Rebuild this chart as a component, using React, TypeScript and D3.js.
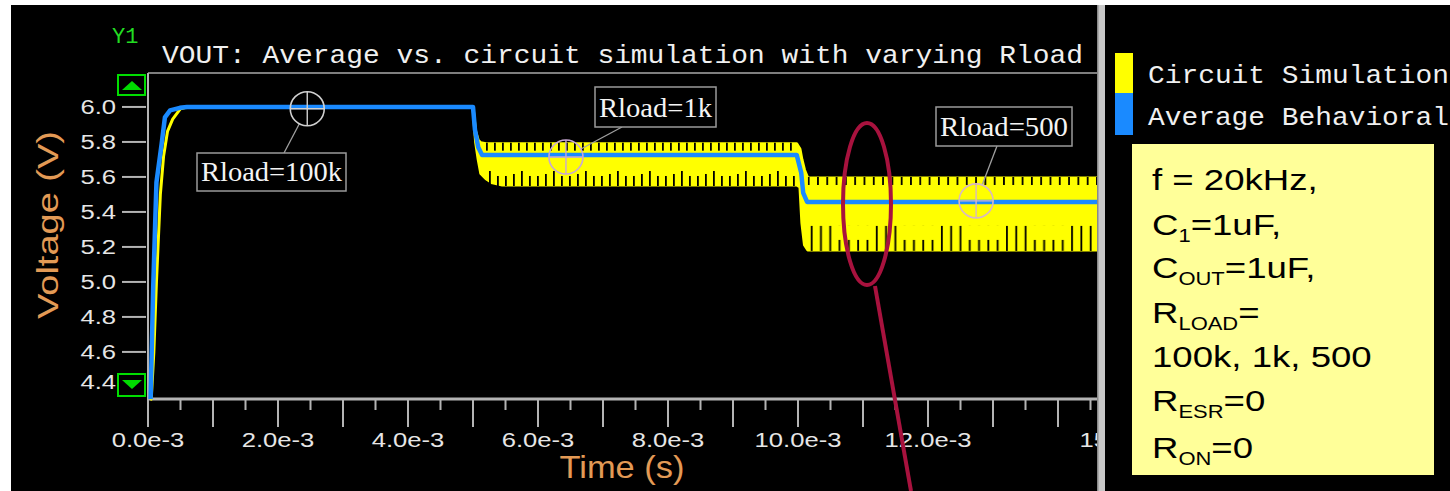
import React from 'react';
import * as d3 from 'd3';

// ---------- data (time in ms, voltage in V) ----------
const avgTime = [0.04, 0.08, 0.13, 0.21, 0.26, 0.34, 0.49, 0.6, 5.0, 5.03, 5.08, 5.14, 9.98, 10.05, 10.08, 10.14, 15];
const avgVolt = [4.33, 4.97, 5.57, 5.79, 5.94, 5.98, 5.995, 6.0, 6.0, 5.87, 5.77, 5.726, 5.726, 5.623, 5.509, 5.457, 5.457];

const simTime = [0.05, 0.09, 0.13, 0.19, 0.24, 0.3, 0.38, 0.5, 0.6, 5.0, 5.04, 5.08, 5.12, 5.2, 5.3, 5.45, 9.98, 10.03, 10.06, 10.1, 10.15, 15];
const simUpper = [4.33, 4.6, 5.0, 5.5, 5.72, 5.86, 5.93, 5.99, 6.0, 6.0, 5.86, 5.81, 5.795, 5.79, 5.79, 5.79, 5.79, 5.76, 5.7, 5.64, 5.594, 5.594];
const simLower = [4.33, 4.6, 5.0, 5.5, 5.72, 5.86, 5.93, 5.99, 6.0, 6.0, 5.8, 5.7, 5.62, 5.59, 5.566, 5.554, 5.554, 5.543, 5.337, 5.211, 5.183, 5.183];

// ripple plateaus of the circuit simulation
const rippleStart = [5.2, 10.15];
const rippleEnd = [9.98, 15];
const rippleTop = [5.79, 5.594];
const rippleBottom = [5.554, 5.183];

const yTicks = [4.4, 4.6, 4.8, 5.0, 5.2, 5.4, 5.6, 5.8, 6.0];
const xLabelTicks = [0, 2, 4, 6, 8, 10, 12, 15];

const annTime = [2.45, 6.43, 12.74];
const annVolt = [5.99, 5.714, 5.463];
const annLabels = ['Rload=100k', 'Rload=1k', 'Rload=500'];

const legendLabels = ['Circuit Simulation', 'Average Behavioral'];
const title = 'VOUT: Average vs. circuit simulation with varying Rload';

// ---------- layout / styles ----------
const W = 1450;
const H = 491;
const P = { left: 148, right: 1097, top: 73, bottom: 399 };
const BLUE = '#1a8aff';
const YELLOW = '#ffff00';
const GRAY = '#b4b4b4';
const ORANGE = '#e39a55';
const SANS = '"Liberation Sans", Arial, sans-serif';
const MONO = '"Liberation Mono", "Courier New", monospace';
const SERIF = '"Liberation Serif", "Times New Roman", serif';
const SX = 1.22;

const annBoxes = [
  { x: 197, y: 153, w: 149, h: 38, ax: 284, ay: 153, color: '#d0d0d0' },
  { x: 595, y: 87, w: 121, h: 40, ax: 622, ay: 127, color: '#c8a8d4' },
  { x: 936, y: 107, w: 136, h: 39, ax: 997, ay: 146, color: '#d8b8c0' },
];
const teethStyle = [
  { period: 8, topDepth: 7, bottom: [14, 9, 9, 11] },
  { period: 9.3, topDepth: 7, bottom: [24, 24, 24, 10, 10, 10, 10] },
];

// each line: main text, optional subscript, optional trailing text
const infoLines: { b: number; main: string; sub?: string; tail?: string }[] = [
  { b: 190, main: 'f = 20kHz,' },
  { b: 235, main: 'C', sub: '1', tail: '=1uF,' },
  { b: 278, main: 'C', sub: 'OUT', tail: '=1uF,' },
  { b: 323, main: 'R', sub: 'LOAD', tail: '=' },
  { b: 367, main: '100k, 1k, 500' },
  { b: 411, main: 'R', sub: 'ESR', tail: '=0' },
  { b: 458, main: 'R', sub: 'ON', tail: '=0' },
];

export default function App() {
  const x = d3.scaleLinear().domain([0, 15]).range([148, 1123]);
  const y = d3.scaleLinear().domain([4.331, 6.194]).range([P.bottom, P.top]);

  const avgLine = d3
    .line<number>()
    .x((_, i) => x(avgTime[i]))
    .y((d) => y(d))(avgVolt) as string;

  const simArea = d3
    .area<number>()
    .x((_, i) => x(simTime[i]))
    .y0((_, i) => y(simLower[i]))
    .y1((_, i) => y(simUpper[i]))(simTime) as string;

  const xMajor = d3.range(0, 15.001, 1);
  const xMinor = d3.range(0.5, 15, 1);

  const fmt = (t: number) => `${t.toFixed(1)}e-3`;

  return (
    <svg width={W} height={H} style={{ position: 'absolute', left: 0, top: 0 }}>
      <defs>
        <clipPath id="plotClip">
          <rect x={P.left} y={P.top} width={P.right - P.left} height={P.bottom - P.top + 40} />
        </clipPath>
        <clipPath id="rightClip">
          <rect x={0} y={0} width={P.right} height={H} />
        </clipPath>
        {teethStyle.map((s, k) => {
          const yb = y(rippleBottom[k]);
          const maxH = Math.max(...s.bottom);
          return (
            <React.Fragment key={k}>
              <pattern id={`top${k}`} patternUnits="userSpaceOnUse" width={s.period} height={s.topDepth + 1} x={x(rippleStart[k])} y={y(rippleTop[k]) - 1}>
                <rect x={0} y={0} width={1.8} height={s.topDepth + 1} fill="#000" />
              </pattern>
              <pattern
                id={`bot${k}`}
                patternUnits="userSpaceOnUse"
                width={s.period * s.bottom.length}
                height={maxH + 1}
                x={x(rippleStart[k]) + 3}
                y={yb - maxH}
              >
                {s.bottom.map((h, j) => (
                  <rect key={j} x={j * s.period} y={maxH - h} width={1.8} height={h + 1} fill="#000" />
                ))}
              </pattern>
            </React.Fragment>
          );
        })}
      </defs>

      <rect x={0} y={0} width={W} height={H} fill="#fff" />
      <rect x={11} y={5} width={W - 11} height={H - 5} fill="#000" />

      {/* Y1 and title */}
      <text x={112} y={43} fill="#22dd22" fontFamily={MONO} fontSize={22}>
        Y1
      </text>
      <text x={162} y={63} fill="#f0f0f0" fontFamily={MONO} fontSize={26} textLength={921} lengthAdjust="spacingAndGlyphs">
        {title}
      </text>

      {/* frame */}
      <line x1={P.left} x2={P.right} y1={P.top} y2={P.top} stroke="#a8a8a8" strokeWidth={1.5} />
      <line x1={P.left} x2={P.left} y1={P.top} y2={P.bottom} stroke={GRAY} strokeWidth={2} />

      {/* y ticks */}
      {yTicks.map((v) => (
        <g key={v}>
          <line x1={122} x2={146} y1={y(v)} y2={y(v)} stroke={GRAY} strokeWidth={2} />
          <text
            transform={`translate(116,${Math.min(y(v), P.bottom - 18) + 7.5}) scale(${SX},1)`}
            textAnchor="end"
            fill="#e6e6e6"
            fontFamily={SANS}
            fontSize={21}
          >
            {v.toFixed(1)}
          </text>
        </g>
      ))}

      {/* x axis */}
      <g clipPath="url(#rightClip)">
        <line x1={P.left} x2={P.right} y1={P.bottom} y2={P.bottom} stroke={GRAY} strokeWidth={3} />
        {xMajor.map((t) => (
          <line key={`M${t}`} x1={x(t)} x2={x(t)} y1={P.bottom} y2={427} stroke={GRAY} strokeWidth={2} />
        ))}
        {xMinor.map((t) => (
          <line key={`m${t}`} x1={x(t)} x2={x(t)} y1={P.bottom} y2={410} stroke={GRAY} strokeWidth={2} />
        ))}
        {xLabelTicks.map((t) => (
          <text
            key={`l${t}`}
            transform={`translate(${x(t)},447) scale(${SX},1)`}
            textAnchor="middle"
            fill="#e6e6e6"
            fontFamily={SANS}
            fontSize={21}
          >
            {fmt(t)}
          </text>
        ))}
      </g>

      {/* axis titles */}
      <text x={622} y={478} textAnchor="middle" fill={ORANGE} fontFamily={SANS} fontSize={32} textLength={125} lengthAdjust="spacingAndGlyphs">
        Time (s)
      </text>
      <text
        transform="translate(58,225) rotate(-90)"
        textAnchor="middle"
        fill={ORANGE}
        fontFamily={SANS}
        fontSize={30}
        textLength={188}
        lengthAdjust="spacingAndGlyphs"
      >
        Voltage (V)
      </text>

      {/* data */}
      <g clipPath="url(#plotClip)">
        <path d={simArea} fill={YELLOW} stroke={YELLOW} strokeWidth={3} strokeLinejoin="round" />
        {teethStyle.map((s, k) => {
          const x0 = x(rippleStart[k]);
          const x1 = x(rippleEnd[k]);
          const yt = y(rippleTop[k]);
          const yb = y(rippleBottom[k]);
          const maxH = Math.max(...s.bottom);
          return (
            <g key={k}>
              <rect x={x0} y={yt - 1} width={x1 - x0} height={s.topDepth + 1} fill={`url(#top${k})`} />
              <rect x={x0} y={yb - maxH} width={x1 - x0} height={maxH + 1} fill={`url(#bot${k})`} />
            </g>
          );
        })}
        <path d={avgLine} fill="none" stroke={BLUE} strokeWidth={4.5} strokeLinejoin="round" />
      </g>

      {/* annotations */}
      {annTime.map((t, i) => {
        const cx = x(t);
        const cy = y(annVolt[i]);
        const b = annBoxes[i];
        const r = 17;
        const ang = Math.atan2(b.ay - cy, b.ax - cx);
        return (
          <g key={i}>
            <line
              x1={cx + r * Math.cos(ang)}
              y1={cy + r * Math.sin(ang)}
              x2={b.ax}
              y2={b.ay}
              stroke="#a0a0a0"
              strokeWidth={1.3}
            />
            <circle cx={cx} cy={cy} r={r} fill="none" stroke={b.color} strokeWidth={1.6} />
            <line x1={cx - r} x2={cx + r} y1={cy} y2={cy} stroke={b.color} strokeWidth={1.4} />
            <line x1={cx} x2={cx} y1={cy - r} y2={cy + r} stroke={b.color} strokeWidth={1.4} />
            <rect x={b.x} y={b.y} width={b.w} height={b.h} fill="#000" stroke="#9a9a9a" strokeWidth={1.5} />
            <text
              x={b.x + b.w / 2}
              y={b.y + b.h - 10}
              textAnchor="middle"
              fill="#f4f4f4"
              fontFamily={SERIF}
              fontSize={28}
              textLength={b.w - 8}
              lengthAdjust="spacingAndGlyphs"
            >
              {annLabels[i]}
            </text>
          </g>
        );
      })}

      {/* scroll buttons */}
      <rect x={118} y={75} width={27} height={20} fill="#000" stroke="#00dd00" strokeWidth={2} />
      <path d="M122,90 L142,90 L132,81 Z" fill="#00dd00" />
      <rect x={118} y={374} width={27} height={22} fill="#000" stroke="#00dd00" strokeWidth={2} />
      <path d="M122,380 L142,380 L132,389 Z" fill="#00dd00" />

      {/* separator */}
      <rect x={1097} y={5} width={8} height={H - 5} fill="#c8c8c8" />
      <rect x={1097} y={5} width={1.5} height={H - 5} fill="#8a8a8a" />

      {/* legend */}
      <rect x={1115} y={53} width={18} height={40} fill={YELLOW} />
      <rect x={1115} y={93} width={18} height={42} fill={BLUE} />
      {legendLabels.map((l, i) => (
        <text
          key={l}
          x={1148}
          y={83 + i * 42}
          fill="#f0f0f0"
          fontFamily={MONO}
          fontSize={26}
          textLength={301}
          lengthAdjust="spacingAndGlyphs"
        >
          {l}
        </text>
      ))}

      {/* parameter box */}
      <rect x={1132} y={144} width={302} height={331} fill="#ffff99" />
      <g fontFamily={SANS} fill="#000">
        {infoLines.map((line, i) => (
          <text key={i} transform={`translate(1152,${line.b}) scale(${SX},1)`} fontSize={30}>
            <tspan>{line.main}</tspan>
            {line.sub ? (
              <tspan fontSize={18} dy={7}>
                {line.sub}
              </tspan>
            ) : null}
            {line.tail ? <tspan dy={-7}>{line.tail}</tspan> : null}
          </text>
        ))}
      </g>

      {/* highlight ellipse and pointer */}
      <ellipse cx={867} cy={204} rx={24} ry={81} fill="none" stroke="#a8123e" strokeWidth={4} />
      <line x1={875} y1={286} x2={911} y2={491} stroke="#a8123e" strokeWidth={4} />
    </svg>
  );
}
